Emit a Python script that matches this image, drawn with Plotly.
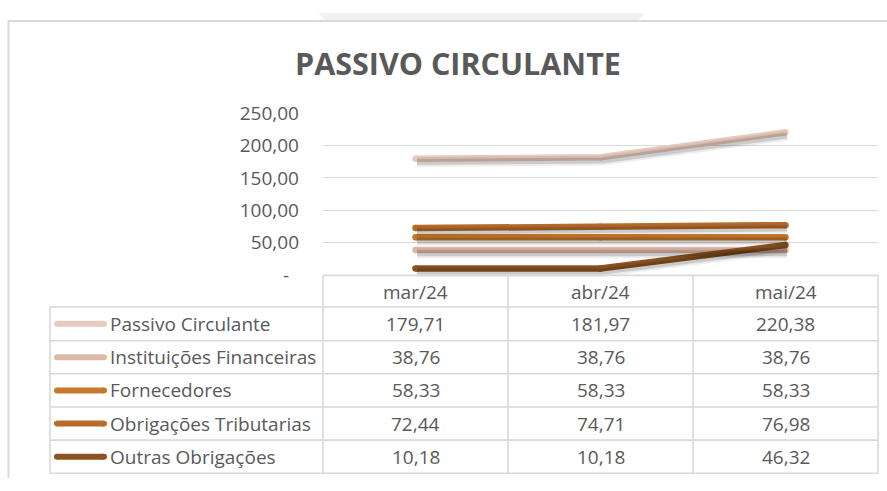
import plotly.graph_objects as go

# ---------------- data ----------------
months = ["mar/24", "abr/24", "mai/24"]
series_names = ["Passivo Circulante", "Instituições Financeiras", "Fornecedores",
                "Obrigações Tributarias", "Outras Obrigações"]
passivo_circulante = [179.71, 181.97, 220.38]
instituicoes_financeiras = [38.76, 38.76, 38.76]
fornecedores = [58.33, 58.33, 58.33]
obrigacoes_tributarias = [72.44, 74.71, 76.98]
outras_obrigacoes = [10.18, 10.18, 46.32]
y_tick_vals = [0, 50, 100, 150, 200, 250]
y_tick_text = ["-\u00a0\u00a0", "50,00", "100,00", "150,00", "200,00", "250,00"]

series_values = [passivo_circulante, instituicoes_financeiras, fornecedores,
                 obrigacoes_tributarias, outras_obrigacoes]
colors = ["#E8CBBE", "#DDB9A7", "#C8782C", "#B86C2A", "#8C5321"]

W, H = 887, 491
def px(x):
    return x / W
def py(y):
    return 1 - y / H

FONT = "Open Sans"
TXT = "#595959"
GRID = "#D9D9D9"
FS = 19

# plot area in pixels
X0, X1 = 323, 878
Y_ZERO, Y_TOP = 276.7, 105.7

fig = go.Figure()

# shadows (drawn on offset axes)
for vals in series_values:
    fig.add_trace(go.Scatter(x=months, y=vals, mode="lines", xaxis="x2", yaxis="y2",
                             line=dict(color="rgba(0,0,0,0.07)", width=10),
                             hoverinfo="skip", showlegend=False))
    fig.add_trace(go.Scatter(x=months, y=vals, mode="lines", xaxis="x2", yaxis="y2",
                             line=dict(color="rgba(0,0,0,0.14)", width=6),
                             hoverinfo="skip", showlegend=False))

for name, vals, c in zip(series_names, series_values, colors):
    fig.add_trace(go.Scatter(x=months, y=vals, mode="lines+markers", name=name,
                             line=dict(color=c, width=6.5),
                             marker=dict(color=c, size=6.5, line=dict(width=0)),
                             showlegend=False))

sdx, sdy = 1.5, 3.5
fig.update_layout(
    width=W, height=H,
    margin=dict(l=0, r=0, t=0, b=0),
    paper_bgcolor="white", plot_bgcolor="rgba(0,0,0,0)",
    font=dict(family=FONT, color=TXT, size=FS),
    xaxis=dict(domain=[px(X0), px(X1)], range=[-0.5, 2.5], showgrid=False,
               showticklabels=False, showline=False, zeroline=False, ticks=""),
    yaxis=dict(domain=[py(Y_ZERO), py(Y_TOP)], range=[0, 250], tickvals=y_tick_vals,
               ticktext=y_tick_text, showgrid=True, gridcolor=GRID, gridwidth=1,
               zeroline=False, showline=False, ticks="", ticklabelstandoff=23,
               tickfont=dict(size=FS, color=TXT, family=FONT)),
    xaxis2=dict(domain=[px(X0 + sdx), px(X1 + sdx)], range=[-0.5, 2.5], visible=False,
                anchor="y2"),
    yaxis2=dict(domain=[py(Y_ZERO + sdy), py(Y_TOP + sdy)], range=[0, 250], visible=False,
                anchor="x2"),
)

shapes = []
# top beige decoration and chart frame
shapes.append(dict(type="path", xref="paper", yref="paper",
                   path=f"M {px(318)} {py(0)} L {px(645)} {py(0)} L {px(638)} {py(8)} L {px(326)} {py(8)} Z",
                   fillcolor="#F6F0EC", line=dict(width=0), layer="below"))
shapes.append(dict(type="line", xref="paper", yref="paper", x0=px(8), x1=1, y0=py(8.5), y1=py(8.5),
                   line=dict(color="#D9D9D9", width=2)))
shapes.append(dict(type="line", xref="paper", yref="paper", x0=px(8.5), x1=px(8.5), y0=py(8), y1=0,
                   line=dict(color="#D9D9D9", width=2)))

# data table
col_x = [50, 323, 508, 693, 878]
row_y = [277, 310.5, 346, 381, 416, 451, 486]
TB = "#D9D9D9"
TW = 1.6
shapes.append(dict(type="line", xref="paper", yref="paper", x0=px(col_x[1]), x1=px(col_x[-1]),
                   y0=py(row_y[0]), y1=py(row_y[0]), line=dict(color=TB, width=TW)))
for yv in row_y[1:]:
    shapes.append(dict(type="line", xref="paper", yref="paper", x0=px(col_x[0]), x1=px(col_x[-1]),
                       y0=py(yv), y1=py(yv), line=dict(color=TB, width=TW)))
shapes.append(dict(type="line", xref="paper", yref="paper", x0=px(col_x[0]), x1=px(col_x[0]),
                   y0=py(row_y[1]), y1=py(row_y[-1]), line=dict(color=TB, width=TW)))
for xv in col_x[1:]:
    shapes.append(dict(type="line", xref="paper", yref="paper", x0=px(xv), x1=px(xv),
                       y0=py(row_y[0]), y1=py(row_y[-1]), line=dict(color=TB, width=TW)))

annotations = []
annotations.append(dict(text="<b>PASSIVO CIRCULANTE</b>", xref="paper", yref="paper",
                        x=px(458), y=py(53), xanchor="center", yanchor="middle", showarrow=False,
                        font=dict(family=FONT, size=30.5, color=TXT)))
for j, m in enumerate(months):
    cx = (col_x[j + 1] + col_x[j + 2]) / 2
    cy = (row_y[0] + row_y[1]) / 2 + 1
    annotations.append(dict(text=m, xref="paper", yref="paper", x=px(cx), y=py(cy),
                            xanchor="center", yanchor="middle", showarrow=False,
                            font=dict(family=FONT, size=FS, color=TXT)))
for i, (name, vals, c) in enumerate(zip(series_names, series_values, colors)):
    cy = (row_y[i + 1] + row_y[i + 2]) / 2
    shapes.append(dict(type="line", xref="paper", yref="paper", x0=px(57), x1=px(104),
                       y0=py(cy), y1=py(cy), line=dict(color=c, width=6)))
    shapes.append(dict(type="circle", xref="paper", yref="paper", x0=px(54), x1=px(60),
                       y0=py(cy + 3), y1=py(cy - 3), fillcolor=c, line=dict(width=0)))
    shapes.append(dict(type="circle", xref="paper", yref="paper", x0=px(101), x1=px(107),
                       y0=py(cy + 3), y1=py(cy - 3), fillcolor=c, line=dict(width=0)))
    annotations.append(dict(text=name, xref="paper", yref="paper", x=px(108), y=py(cy),
                            xanchor="left", yanchor="middle", showarrow=False,
                            font=dict(family=FONT, size=FS, color=TXT)))
    for j, v in enumerate(vals):
        cx = (col_x[j + 1] + col_x[j + 2]) / 2
        annotations.append(dict(text=f"{v:.2f}".replace(".", ","), xref="paper", yref="paper",
                                x=px(cx), y=py(cy), xanchor="center", yanchor="middle",
                                showarrow=False, font=dict(family=FONT, size=FS, color=TXT)))

fig.update_layout(shapes=shapes, annotations=annotations)
fig.write_html("out.html", config={"displayModeBar": False},
               post_script="document.body.style.margin='0';document.documentElement.style.overflow='hidden';")
